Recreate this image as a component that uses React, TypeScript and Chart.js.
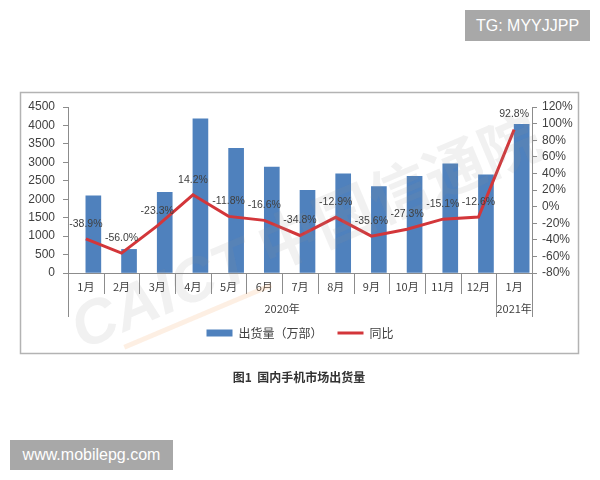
import React, { useEffect, useRef } from 'react';
import { Chart, registerables } from 'chart.js';

Chart.register(...registerables);

// ---- data ----
const months = ['1月', '2月', '3月', '4月', '5月', '6月', '7月', '8月', '9月', '10月', '11月', '12月', '1月'];
const years = ['2020年', '2021年'];
const yearSpans = [12, 1];
const shipments = [2090, 640, 2190, 4180, 3380, 2870, 2240, 2690, 2340, 2620, 2960, 2660, 4030];
const yoy = [-38.9, -56.0, -23.3, 14.2, -11.8, -16.6, -34.8, -12.9, -35.6, -27.3, -15.1, -12.6, 92.8];
const seriesNames = ['出货量（万部）', '同比'];
const leftAxis = { min: 0, max: 4500, step: 500 };
const rightAxis = { min: -80, max: 120, step: 20 };
const chartTitle = '图1  国内手机市场出货量';
const topMark = 'TG: MYYJJPP';
const bottomMark = 'www.mobilepg.com';
const watermark = ['CAICT', '中国信通院'];

const BAR = '#4f81bd';
const LINE = '#d3363a';
const AX = '#8c8c8c';
const TXT = '#404040';
const LATIN = '"Liberation Sans", Arial, sans-serif';
const CJK = '"Noto Sans CJK SC", "Liberation Sans", sans-serif';

const framePlugin = {
  id: 'frame',
  beforeDraw(chart: any) {
    const ctx = chart.ctx;
    ctx.save();
    ctx.strokeStyle = '#b3b3b3';
    ctx.lineWidth = 1.5;
    ctx.strokeRect(20.5, 92.5, 558, 261);
    ctx.restore();
  },
};

const overlayPlugin = {
  id: 'overlay',
  afterDatasetsDraw(chart: any) {
    const ctx = chart.ctx;
    const xs = chart.scales.x;
    const area = chart.chartArea;
    // category dividers and year row
    const n = months.length;
    const bounds: number[] = [];
    for (let i = 0; i <= n; i++) {
      if (i === 0) bounds.push(xs.left);
      else if (i === n) bounds.push(xs.right);
      else bounds.push((xs.getPixelForValue(i - 1) + xs.getPixelForValue(i)) / 2);
    }
    const longIdx = new Set<number>([0]);
    let acc = 0;
    yearSpans.forEach((s) => { acc += s; longIdx.add(acc); });
    ctx.save();
    ctx.strokeStyle = AX;
    ctx.lineWidth = 1;
    bounds.forEach((bx, i) => {
      const x = Math.round(bx) + 0.5;
      ctx.beginPath();
      ctx.moveTo(x, area.bottom);
      ctx.lineTo(x, area.bottom + (longIdx.has(i) ? 44 : 21));
      ctx.stroke();
    });
    ctx.fillStyle = TXT;
    ctx.font = `11px ${CJK}`;
    ctx.textAlign = 'center';
    ctx.textBaseline = 'middle';
    let start = 0;
    years.forEach((y, k) => {
      const end = start + yearSpans[k];
      ctx.fillText(y, (bounds[start] + bounds[end]) / 2, area.bottom + 36);
      start = end;
    });
    ctx.restore();

    // watermark
    ctx.save();
    ctx.translate(82, 350);
    ctx.rotate(-0.4);
    ctx.fillStyle = 'rgba(150,150,150,0.13)';
    ctx.font = `italic bold 62px ${LATIN}`;
    ctx.textBaseline = 'alphabetic';
    ctx.fillText(watermark[0], 0, 0);
    const w0 = ctx.measureText(watermark[0]).width;
    ctx.font = `bold 60px ${CJK}`;
    ctx.fillText(watermark[1], w0 + 14, 0);
    ctx.strokeStyle = 'rgba(240,150,70,0.15)';
    ctx.lineWidth = 5;
    ctx.beginPath();
    ctx.moveTo(40, 14);
    ctx.lineTo(w0 + 10, 14);
    ctx.stroke();
    ctx.restore();

    // data labels
    const meta = chart.getDatasetMeta(2);
    ctx.save();
    ctx.fillStyle = TXT;
    ctx.font = `10.5px ${LATIN}`;
    ctx.textAlign = 'center';
    ctx.textBaseline = 'middle';
    meta.data.forEach((el: any, i: number) => {
      ctx.fillText(yoy[i].toFixed(1) + '%', el.x, el.y - 15);
    });
    ctx.restore();
  },
};

export default function App() {
  const ref = useRef<HTMLCanvasElement | null>(null);
  useEffect(() => {
    if (!ref.current) return;
    const chart = new Chart(ref.current, {
      type: 'bar',
      data: {
        labels: months,
        datasets: [
          {
            type: 'bar',
            label: '',
            data: months.map(() => null),
            backgroundColor: BAR,
            barThickness: 15,
            yAxisID: 'y',
            order: 1,
          } as any,
          {
            type: 'bar',
            label: seriesNames[0],
            data: shipments,
            backgroundColor: BAR,
            borderWidth: 0,
            barThickness: 15,
            yAxisID: 'y',
            order: 1,
          },
          {
            type: 'line',
            label: seriesNames[1],
            data: yoy,
            borderColor: LINE,
            backgroundColor: LINE,
            borderWidth: 3,
            pointRadius: 0,
            tension: 0,
            yAxisID: 'y1',
            order: 0,
          },
        ],
      },
      options: {
        animation: false,
        responsive: false,
        maintainAspectRatio: false,
        layout: { padding: { left: 20, right: 20, top: 107, bottom: 131 } },
        plugins: {
          tooltip: { enabled: false },
          legend: {
            position: 'bottom',
            labels: {
              filter: (item: any) => item.text !== '',
              sort: (a: any, b: any) => a.datasetIndex - b.datasetIndex,
              usePointStyle: true,
              pointStyleWidth: 26,
              boxHeight: 7,
              padding: 15,
              color: TXT,
              font: { size: 12, family: CJK },
              generateLabels: (chart: any) => {
                const items = Chart.defaults.plugins.legend.labels.generateLabels(chart);
                return items.map((it: any) => ({
                  ...it,
                  pointStyle: it.datasetIndex === 2 ? 'line' : 'rect',
                }));
              },
            },
          },
        },
        scales: {
          x: {
            type: 'category',
            grid: { display: false, drawTicks: false },
            border: { display: true, color: AX, width: 1 },
            ticks: {
              color: TXT,
              font: { size: 11, family: CJK },
              padding: 7,
              maxRotation: 0,
              autoSkip: false,
            },
            afterFit: (s: any) => { s.height = 39; },
          },
          y: {
            position: 'left',
            min: leftAxis.min,
            max: leftAxis.max,
            ticks: {
              stepSize: leftAxis.step,
              autoSkip: false,
              color: TXT,
              font: { size: 12, family: LATIN },
              padding: 8,
              callback: (v: any) => String(v),
            },
            grid: { drawOnChartArea: false, tickLength: 5, color: AX },
            border: { display: true, color: AX, width: 1 },
            afterFit: (s: any) => { s.width = 48; },
          },
          y1: {
            position: 'right',
            min: rightAxis.min,
            max: rightAxis.max,
            ticks: {
              stepSize: rightAxis.step,
              autoSkip: false,
              color: TXT,
              font: { size: 12, family: LATIN },
              padding: 5,
              callback: (v: any) => v + '%',
            },
            grid: { drawOnChartArea: false, tickLength: 5, color: AX },
            border: { display: true, color: AX, width: 1 },
            afterFit: (s: any) => { s.width = 48; },
          },
        },
      } as any,
      plugins: [framePlugin, overlayPlugin],
    });
    return () => chart.destroy();
  }, []);

  return (
    <div style={{ position: 'absolute', left: 0, top: 0, width: 600, height: 480, background: '#fff' }}>
      <canvas ref={ref} width={600} height={480} style={{ position: 'absolute', left: 0, top: 0, width: 600, height: 480 }} />
      <div
        style={{
          position: 'absolute', left: 465, top: 10, width: 125, height: 31,
          background: '#a8a8a8', color: '#fff', font: `16px ${LATIN}`,
          display: 'flex', alignItems: 'center', justifyContent: 'center',
        }}
      >
        {topMark}
      </div>
      <div
        style={{
          position: 'absolute', left: 0, top: 369, width: 598, textAlign: 'center',
          font: `bold 12px ${CJK}`, color: '#333', lineHeight: '16px', whiteSpace: 'pre',
        }}
      >
        {chartTitle}
      </div>
      <div
        style={{
          position: 'absolute', left: 10, top: 440, width: 163, height: 30,
          background: '#a8a8a8', color: '#fff', font: `16px ${LATIN}`,
          display: 'flex', alignItems: 'center', justifyContent: 'center',
        }}
      >
        {bottomMark}
      </div>
    </div>
  );
}
